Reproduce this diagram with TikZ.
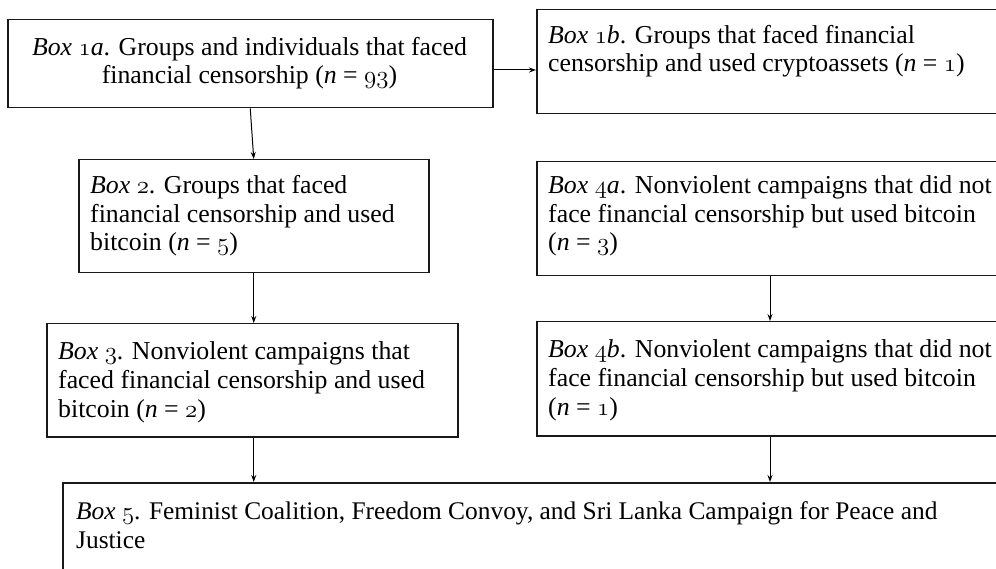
\documentclass[tikz,border=0pt]{standalone}
\usepackage{fontspec}
\setmainfont{Liberation Serif}
\usetikzlibrary{arrows.meta}
\newcommand\osn[1]{{\usefont{OML}{lmm}{m}{it}#1}}
\begin{document}
\begin{tikzpicture}[x=1pt,y=-1pt,
  box/.style={draw=black!90, line width=1.5pt, inner sep=0pt, anchor=north west},
  txt/.style={anchor=base west, inner sep=0pt, font=\fontsize{25.8}{28.8}\selectfont, align=left},
  arr/.style={draw=black, line width=1pt, -{Stealth[length=7pt,width=5pt]}}]
\useasboundingbox (0,0) rectangle (996,569);
\clip (0,0) rectangle (996,569);
% boxes
\node[box, minimum width=485pt, minimum height=88pt] (b1a) at (7,19) {};
\node[box, minimum width=474pt, minimum height=104pt] (b1b) at (536,9) {};
\node[box, minimum width=350pt, minimum height=113pt] (b2) at (78,159) {};
\node[box, minimum width=411pt, minimum height=113pt] (b3) at (46,323) {};
\node[box, minimum width=474pt, minimum height=114pt] (b4a) at (536,161) {};
\node[box, minimum width=474pt, minimum height=114pt] (b4b) at (536,321) {};
\node[box, minimum width=948pt, minimum height=100pt] (b5) at (62,482) {};
% texts (anchor = baseline of the last line)
\node[txt, anchor=base, align=center] (t1a) at (249.5,84) {\textit{Box \osn{1}a}. Groups and individuals that faced\\financial censorship (\textit{n} = \osn{93})};
\node[txt] (t1b) at (548,72) {\textit{Box \osn{1}b}. Groups that faced financial\\censorship and used cryptoassets (\textit{n} = \osn{1})};
\node[txt] (t2) at (90,251) {\textit{Box \osn{2}}. Groups that faced\\financial censorship and used\\bitcoin (\textit{n} = \osn{5})};
\node[txt] (t3) at (58,417) {\textit{Box \osn{3}}. Nonviolent campaigns that\\faced financial censorship and used\\bitcoin (\textit{n} = \osn{2})};
\node[txt] (t4a) at (548,251) {\textit{Box \osn{4}a}. Nonviolent campaigns that did not\\face financial censorship but used bitcoin\\(\textit{n} = \osn{3})};
\node[txt] (t4b) at (548,415) {\textit{Box \osn{4}b}. Nonviolent campaigns that did not\\face financial censorship but used bitcoin\\(\textit{n} = \osn{1})};
\node[txt, font=\fontsize{25.4}{28.8}\selectfont] (t5) at (76,548) {\textit{Box \osn{5}}. Feminist Coalition, Freedom Convoy, and Sri Lanka Campaign for Peace and\\Justice};
% connectors
\coordinate (h) at (0,70);
\coordinate (v) at (770,0);
\draw[arr] (b1a.east |- h) -- (b1b.west |- h);
\draw[arr] (b1a.south) -- (b2.north);
\draw[arr] (b2.south) -- (b2.south |- b3.north);
\draw[arr] (b2.south |- b3.south) -- (b2.south |- b5.north);
\draw[arr] (b4a.south -| v) -- (b4b.north -| v);
\draw[arr] (b4b.south -| v) -- (b5.north -| v);
\end{tikzpicture}
\end{document}
